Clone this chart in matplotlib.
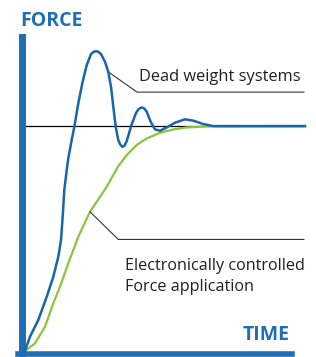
import matplotlib
matplotlib.use("Agg")
import matplotlib.pyplot as plt

# dead weight system response (time, force)
dw_t = [0.000, 0.179, 0.475, 0.775, 1.011, 1.189, 1.286, 1.346, 1.404, 1.489, 1.546, 1.668, 1.761,
        1.904, 2.046, 2.204, 2.357, 2.450, 2.536, 2.620, 2.714, 2.857, 2.975, 3.071, 3.154, 3.239,
        3.332, 3.400, 3.475, 3.550, 3.632, 3.800, 3.964, 4.060, 4.168, 4.260, 4.346, 4.489, 4.643,
        4.821, 5.061, 5.357, 5.714, 6.011, 6.368, 6.725, 10.0]
dw_f = [0.000, 0.064, 0.138, 0.241, 0.330, 0.419, 0.493, 0.597, 0.716, 0.804, 0.856, 0.938, 0.997,
        1.101, 1.190, 1.271, 1.320, 1.330, 1.333, 1.330, 1.320, 1.286, 1.241, 1.175, 1.086, 0.997,
        0.938, 0.918, 0.908, 0.912, 0.933, 1.004, 1.058, 1.076, 1.083, 1.078, 1.064, 1.019, 0.985,
        0.979, 0.994, 1.015, 1.030, 1.024, 1.009, 1.000, 1.000]

# electronically controlled response
ec_t = [0.000, 0.357, 0.714, 1.011, 1.250, 1.546, 1.904, 2.321, 2.918, 3.321, 3.632, 3.989, 4.346,
        4.821, 5.296, 5.775, 6.250, 6.607, 10.0]
ec_f = [0.000, 0.034, 0.108, 0.212, 0.286, 0.390, 0.508, 0.619, 0.730, 0.820, 0.871, 0.916, 0.945,
        0.970, 0.985, 0.994, 0.997, 0.999, 1.000]

target_f = 1.0
label_dw = "Dead weight systems"
label_ec = "Electronically controlled\nForce application"

AXIS_BLUE = "#1f6fb6"
CURVE_BLUE = "#1866aa"
GREEN = "#8cc43c"
TEXT = "#231f20"

fig = plt.figure(figsize=(3.16, 3.57), dpi=100)
ax = fig.add_axes([25 / 316, 6 / 357, 280 / 316, 314 / 357])
ax.set_xlim(0, 10)
ax.set_ylim(0, 1.396)

ax.plot([0, 10], [target_f, target_f], color="black", lw=0.9, zorder=1)
ax.plot(ec_t, ec_f, color=GREEN, lw=1.6, zorder=2, clip_on=False, solid_joinstyle="round")
ax.plot(dw_t, dw_f, color=CURVE_BLUE, lw=1.8, zorder=3, clip_on=False, solid_joinstyle="round")

# leader lines
ax.plot([2.975, 4.0, 9.96], [1.241, 1.151, 1.151], color="#333333", lw=0.8)
ax.plot([2.321, 3.332, 9.96], [0.619, 0.496, 0.496], color="#333333", lw=0.8)

ax.text(4.07, 1.22, label_dw, family="Open Sans", fontsize=11.8, color=TEXT, va="center", ha="left")
ax.text(3.57, 0.33, label_ec, family="Open Sans", fontsize=11.6, color=TEXT, va="center", ha="left",
        linespacing=1.4)

# axes as thick blue bars
for s in ["top", "right"]:
    ax.spines[s].set_visible(False)
ax.spines["left"].set_position(("outward", 2.5))
ax.spines["bottom"].set_position(("outward", 2.5))
ax.spines["left"].set_linewidth(5)
ax.spines["bottom"].set_linewidth(4)
ax.spines["left"].set_color(AXIS_BLUE)
ax.spines["bottom"].set_color(AXIS_BLUE)
ax.spines["left"].set_bounds(-0.03, 1.396)
ax.spines["bottom"].set_bounds(-0.25, 9.54)
ax.set_xticks([])
ax.set_yticks([])

fig.text(20 / 316, 1 - 20.5 / 357, "FORCE", family="Open Sans", fontweight="bold", fontsize=14,
         color=AXIS_BLUE, va="center", ha="left")
fig.text(290 / 316, 1 - 335 / 357, "TIME", family="Open Sans", fontweight="bold", fontsize=14,
         color=AXIS_BLUE, va="center", ha="right")

fig.savefig("out.png", dpi=100)
